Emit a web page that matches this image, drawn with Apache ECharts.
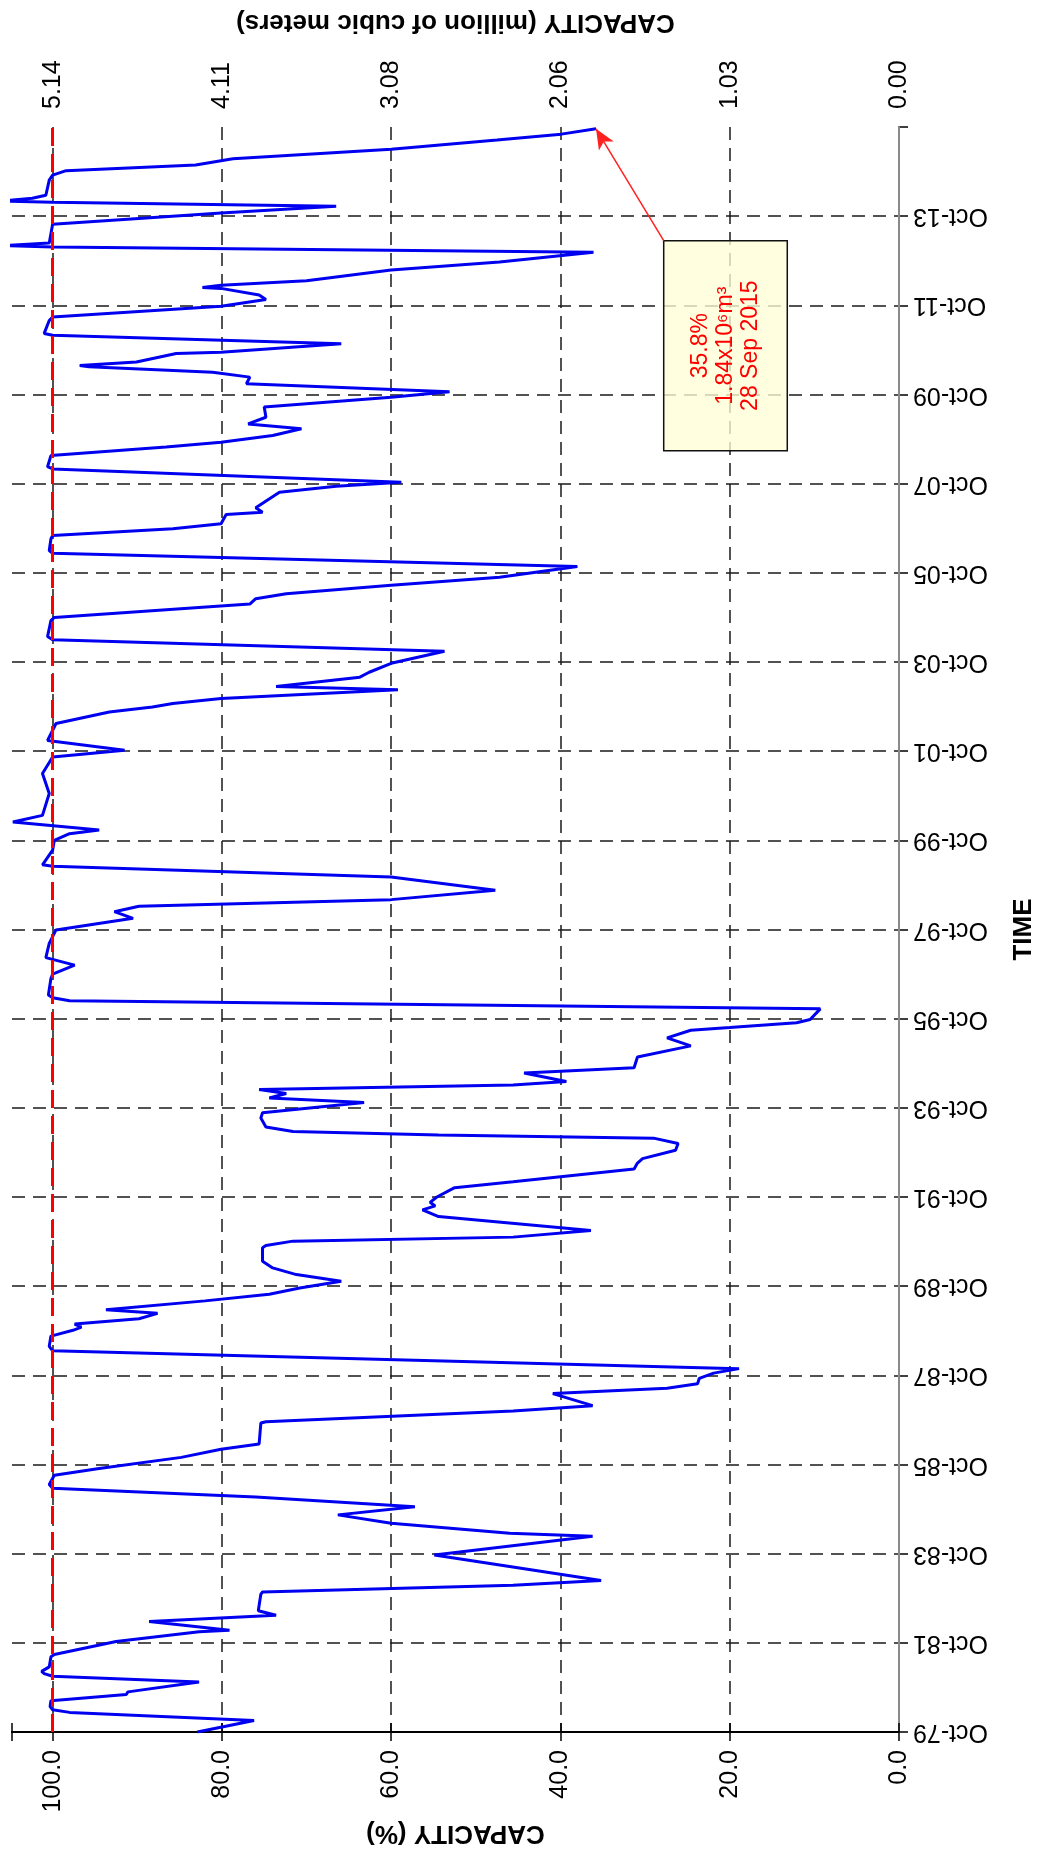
<!DOCTYPE html>
<html>
<head>
<meta charset="utf-8">
<script src="https://cdn.jsdelivr.net/npm/echarts@6/dist/echarts.min.js"></script>
<style>
html,body{margin:0;padding:0;background:#ffffff;}
#chart{width:1045px;height:1860px;}
</style>
</head>
<body>
<div id="chart"></div>
<script>
// ---------------- DATA ----------------
// Time: years elapsed since October 1979 (axis origin = Oct-79)
const yearsSinceOct79 = [
  0.00,0.26,0.44,0.50,0.57,0.70,0.72,0.84,0.90,1.12,1.25,1.31,1.36,1.46,1.69,1.74,
  2.03,2.25,2.28,2.48,2.62,2.72,3.09,3.14,3.29,3.40,3.97,4.39,4.46,4.68,4.87,5.05,
  5.27,5.47,5.55,5.76,5.91,6.16,6.34,6.46,6.93,6.96,7.20,7.32,7.59,7.71,7.81,7.93,
  8.05,8.15,8.55,8.65,8.88,9.01,9.08,9.15,9.27,9.39,9.47,9.67,9.82,9.96,10.11,10.26,
  10.41,10.56,10.86,10.91,11.01,11.10,11.25,11.56,11.71,11.80,11.88,12.00,12.21,12.34,12.63,12.76,
  12.86,13.05,13.20,13.32,13.39,13.47,13.57,13.77,13.89,14.12,14.22,14.32,14.41,14.51,14.59,14.78,
  14.90,15.14,15.39,15.57,15.74,15.80,15.91,15.98,16.22,16.40,16.47,16.53,16.90,17.00,17.20,17.37,
  17.69,17.99,18.25,18.40,18.52,18.67,18.88,19.18,19.42,19.45,19.78,20.00,20.15,20.23,20.41,20.56,
  21.05,21.50,21.87,22.02,22.24,22.39,22.62,22.88,22.99,23.07,23.18,23.38,23.45,23.66,23.77,23.97,
  24.24,24.50,24.57,24.93,25.00,25.23,25.30,25.42,25.53,25.72,25.90,26.14,26.44,26.50,26.76,26.84,
  26.99,27.10,27.31,27.36,27.46,27.81,27.94,28.03,28.33,28.38,28.63,28.67,28.82,28.93,29.08,29.23,
  29.34,29.49,29.72,29.94,30.06,30.24,30.39,30.50,30.62,30.65,30.73,30.92,30.95,31.14,31.33,31.37,
  31.66,31.74,31.98,32.13,32.23,32.38,32.40,32.45,32.55,32.79,32.97,33.19,33.31,33.34,33.40,33.82,
  34.07,34.22,34.31,34.34,34.40,34.47,34.81,34.92,35.02,35.15,35.29,35.50,35.71,35.84,35.96
];
// Reservoir capacity in percent of full storage
const capacityPct = [
  82.9,76.2,98.0,100.0,100.3,100.2,100.0,91.3,91.1,82.7,100.0,101.0,101.3,100.4,100.2,99.8,
  92.5,82.7,79.1,88.6,73.6,75.7,75.4,75.2,45.6,35.2,54.9,36.2,46.0,60.0,66.3,57.2,
  76.0,100.0,100.4,99.8,94.5,84.8,80.1,75.6,75.4,74.8,45.6,36.2,40.9,27.4,23.8,23.6,
  21.9,18.9,100.0,100.4,100.2,97.6,96.6,97.4,89.8,87.6,93.7,82.0,74.4,70.8,65.9,71.2,
  74.0,75.2,75.2,74.8,71.6,45.6,36.4,54.4,56.3,54.8,55.4,54.6,52.5,45.6,31.3,30.9,
  30.3,26.4,26.1,29.0,54.4,71.6,74.8,75.4,75.2,63.2,74.4,72.4,75.6,45.6,39.3,44.3,
  31.3,30.9,24.6,27.4,24.6,20.0,12.1,10.5,9.3,98.0,100.0,100.5,100.2,100.0,97.4,100.8,
  100.4,99.6,90.5,92.7,89.8,60.0,47.7,60.0,100.0,101.2,100.0,99.8,98.0,94.5,104.7,101.2,
  100.4,101.2,100.0,91.5,100.6,100.2,99.6,93.3,88.2,85.8,80.1,59.2,73.6,63.7,62.6,60.0,
  53.7,100.0,100.6,100.2,99.8,82.3,76.7,76.0,72.4,60.0,47.2,38.0,100.0,100.4,100.2,100.0,
  85.8,80.1,79.5,75.2,76.0,73.2,66.5,58.8,100.0,100.6,100.2,100.0,86.6,80.1,74.0,70.6,
  76.9,74.8,75.0,60.0,53.1,77.1,76.7,81.1,95.7,96.8,90.1,85.4,80.1,65.9,100.0,101.0,
  100.4,100.0,80.1,74.8,75.6,80.1,82.3,80.1,70.0,60.0,47.2,36.1,100.0,106.0,100.4,100.0,
  80.1,66.5,100.0,106.0,102.4,100.8,100.4,100.0,98.4,83.1,78.7,60.0,47.5,39.9,35.8
];
const fullStorageMcm = 5.14;          // million m3 at 100 %
const firstTickYear = 79;             // Oct-79
const annotationLines = ['35.8%', '1.84x10\u2076m\u00B3', '28 Sep 2015'];

// ---------------- CHART ----------------
const X_MAX = 104.8;   // % at left border
const T_MAX = 36;      // years (Oct-15) at top border
const FONT = '"Liberation Sans", Arial, sans-serif';

const seriesData = yearsSinceOct79.map((t, i) => [capacityPct[i], t]);
const lastIdx = seriesData.length - 1;

const gridLine = { color: '#1a1a1a', width: 1.5, type: [13, 8] };

const chart = echarts.init(document.getElementById('chart'), null, { renderer: 'canvas' });
chart.setOption({
  animation: false,
  backgroundColor: '#ffffff',
  textStyle: { fontFamily: FONT },
  grid: { left: 12, right: 142, top: 127, bottom: 128, containLabel: false },
  xAxis: [
    {
      type: 'value', position: 'bottom', inverse: true,
      min: 0, max: X_MAX, interval: 20,
      name: 'CAPACITY (%)', nameLocation: 'middle', nameGap: 88, nameRotate: 180,
      nameTextStyle: { fontFamily: FONT, fontWeight: 'bold', fontSize: 26, color: '#000' },
      axisLine: { show: true, lineStyle: { color: '#000', width: 2 } },
      axisTick: { show: true, length: 9, lineStyle: { color: '#000', width: 1.5 } },
      axisLabel: {
        rotate: 90, fontSize: 25, color: '#000', margin: 18, fontFamily: FONT,
        formatter: v => (Math.abs(v % 20) < 1e-6 && v <= 100) ? v.toFixed(1) : ''
      },
      splitLine: { show: true, showMaxLine: false, lineStyle: gridLine }
    },
    {
      type: 'value', position: 'top', inverse: true,
      min: 0, max: X_MAX * fullStorageMcm / 100, interval: fullStorageMcm / 5,
      name: 'CAPACITY (million of cubic meters)', nameLocation: 'middle', nameGap: 92, nameRotate: 180,
      nameTextStyle: { fontFamily: FONT, fontWeight: 'bold', fontSize: 26, color: '#000' },
      axisLine: { show: true, lineStyle: { color: '#000', width: 2 } },
      axisTick: { show: true, length: 9, lineStyle: { color: '#000', width: 1.5 } },
      axisLabel: {
        rotate: 90, fontSize: 25, color: '#000', margin: 18, fontFamily: FONT,
        formatter: v => (v <= fullStorageMcm + 1e-6) ? v.toFixed(2) : ''
      },
      splitLine: { show: false },
      z: 3
    }
  ],
  yAxis: [
    {
      type: 'value', position: 'right',
      min: 0, max: T_MAX, interval: 2,
      name: 'TIME', nameLocation: 'middle', nameGap: 112, nameRotate: 90,
      nameTextStyle: { fontFamily: FONT, fontWeight: 'bold', fontSize: 26, color: '#000' },
      axisLine: { show: true, lineStyle: { color: '#222', width: 2 } },
      axisTick: { show: true, length: 9, lineStyle: { color: '#000', width: 1.5 } },
      axisLabel: {
        rotate: 180, fontSize: 25, color: '#000', margin: 14, fontFamily: FONT,
        formatter: v => {
          if (v >= T_MAX) return '';
          const yy = (firstTickYear + Math.round(v)) % 100;
          return 'Oct-' + String(yy).padStart(2, '0');
        }
      },
      splitLine: { show: true, showMinLine: false, showMaxLine: false, lineStyle: gridLine }
    },
    {
      type: 'value', position: 'left', min: 0, max: T_MAX,
      axisLine: { show: true, lineStyle: { color: '#8a8a8a', width: 2 } },
      axisTick: { show: false }, axisLabel: { show: false }, splitLine: { show: false },
      z: 3
    }
  ],
  series: [
    {
      type: 'line',
      xAxisIndex: 0, yAxisIndex: 0,
      data: seriesData,
      showSymbol: false, symbol: 'none',
      clip: true,
      lineStyle: { color: '#0000f0', width: 3 },
      z: 3,
      markLine: {
        silent: true, symbol: ['none', 'none'], animation: false,
        label: { show: false },
        data: [
          { xAxis: 100, lineStyle: { color: '#ff0000', width: 3, type: [18, 8] } },
          [
            { coord: [27.8, 33.45], symbol: 'none', lineStyle: { color: '#ff2020', width: 1.5, type: 'solid' } },
            { coord: seriesData[lastIdx], symbol: 'arrow', symbolSize: [13, 20] }
          ]
        ]
      },
      markArea: {
        silent: true,
        itemStyle: { color: 'rgba(255,255,215,0.78)', borderColor: '#111', borderWidth: 1.5 },
        label: {
          show: true, position: 'inside', rotate: 90,
          color: '#ff0000', fontSize: 23, lineHeight: 25, align: 'center', verticalAlign: 'middle',
          fontFamily: FONT,
          formatter: annotationLines.join('\n')
        },
        data: [[ { coord: [27.8, 33.45] }, { coord: [13.2, 28.74] } ]]
      }
    }
  ]
});
</script>
</body>
</html>
